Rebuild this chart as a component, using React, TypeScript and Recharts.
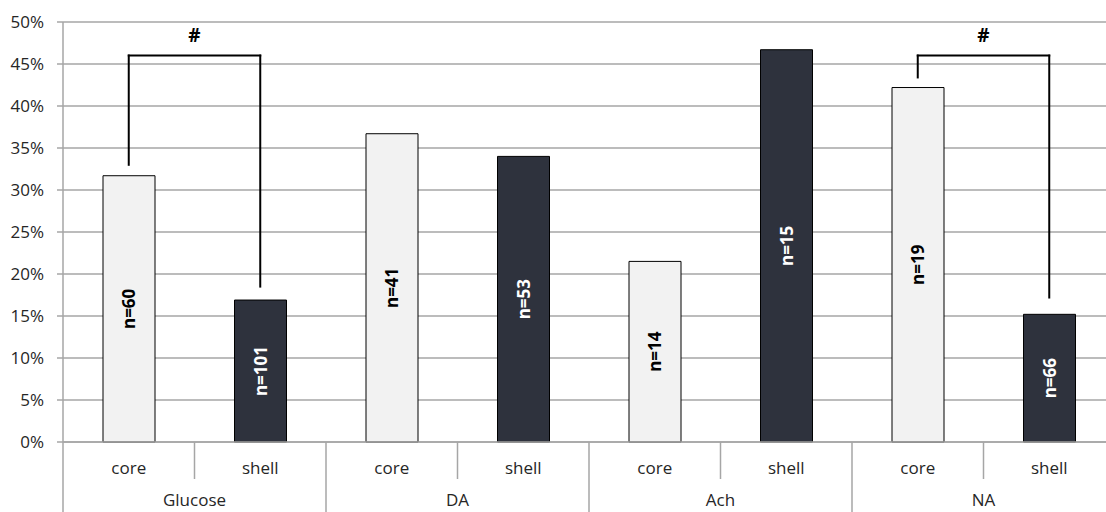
import React from 'react';
import {
  BarChart,
  Bar,
  XAxis,
  YAxis,
  CartesianGrid,
  ReferenceLine,
  LabelList,
  Cell
} from 'recharts';

const groups = ['Glucose', 'DA', 'Ach', 'NA'];
const regions = ['core', 'shell'];
const values = [31.7, 16.9, 36.7, 34.0, 21.5, 46.7, 42.2, 15.2];
const counts = ['n=60', 'n=101', 'n=41', 'n=53', 'n=14', 'n=15', 'n=19', 'n=66'];
const yTicks = [0, 5, 10, 15, 20, 25, 30, 35, 40, 45, 50];

// significance brackets: top of bracket and where each leg ends (in %)
const brackets = [
  { from: 'Glucose-core', to: 'Glucose-shell', top: 46, left: 33, right: 18.5 },
  { from: 'NA-core', to: 'NA-shell', top: 46, left: 43.4, right: 17.2 },
];

const data = groups.flatMap((g, gi) =>
  regions.map((r, ri) => ({
    key: `${g}-${r}`,
    group: g,
    region: r,
    value: values[gi * 2 + ri],
    n: counts[gi * 2 + ri],
  }))
);

const CHART_W = 1116;
const CHART_H = 520;
const Y_W = 63;
const MARGIN = { top: 22, right: 1, left: 0, bottom: 0 };
const SLOT = (CHART_W - Y_W - MARGIN.right) / data.length;

const LIGHT = '#f2f2f2';
const DARK = '#2e323d';
const GRID = '#a6a6a6';
const TEXT = '#262626';

const CategoryTick = (props: any) => {
  const { x, y, payload, index } = props;
  const d = data[index] || data.find((e) => e.key === payload.value);
  const half = SLOT / 2;
  const isShell = d.region === 'shell';
  return (
    <g>
      {index === 0 && (
        <line x1={x - half} y1={y} x2={x - half} y2={y + 80} stroke={GRID} strokeWidth={1.5} />
      )}
      <line
        x1={x + half}
        y1={y}
        x2={x + half}
        y2={y + (isShell ? 80 : 37)}
        stroke={GRID}
        strokeWidth={1.5}
      />
      <text x={x} y={y + 32} textAnchor="middle" fill={TEXT} fontSize={17}>
        {d.region}
      </text>
      {!isShell && (
        <text x={x + half} y={y + 64} textAnchor="middle" fill={TEXT} fontSize={17}>
          {d.group}
        </text>
      )}
    </g>
  );
};

const CountLabel = (props: any) => {
  const { x, y, width, height, value } = props;
  const i = counts.indexOf(value);
  const dark = data[i] && data[i].region === 'shell';
  const cx = Number(x) + Number(width) / 2;
  const cy = Number(y) + Number(height) / 2;
  return (
    <text
      x={cx}
      y={cy}
      transform={`rotate(-90 ${cx} ${cy})`}
      textAnchor="middle"
      dominantBaseline="central"
      fill={dark ? '#ffffff' : '#000000'}
      fontWeight="bold"
      fontSize={17}
    >
      {value}
    </text>
  );
};

export default function App() {
  return (
    <div
      style={{
        position: 'absolute',
        left: 0,
        top: 0,
        width: 1106,
        height: 512,
        overflow: 'hidden',
        background: '#fff',
        fontFamily: '"Open Sans", sans-serif',
      }}
    >
      <BarChart width={CHART_W} height={CHART_H} data={data} margin={MARGIN}>
        <CartesianGrid vertical={false} stroke={GRID} strokeWidth={1.5} />
        <XAxis
          dataKey="key"
          height={CHART_H - MARGIN.top - 420}
          tickLine={false}
          tickSize={0}
          tickMargin={0}
          axisLine={{ stroke: GRID, strokeWidth: 1.5 }}
          tick={<CategoryTick />}
          interval={0}
        />
        <YAxis
          width={Y_W}
          domain={[0, 50]}
          ticks={yTicks}
          tickFormatter={(v: number) => `${v}%`}
          axisLine={{ stroke: GRID, strokeWidth: 1.5 }}
          tickLine={{ stroke: GRID, strokeWidth: 1.5 }}
          tickSize={6}
          tickMargin={13}
          tick={{ fill: TEXT, fontSize: 17 }}
          interval={0}
        />
        <Bar dataKey="value" barSize={52} stroke="#000" strokeWidth={1} isAnimationActive={false}>
          {data.map((d) => (
            <Cell key={d.key} fill={d.region === 'core' ? LIGHT : DARK} />
          ))}
          <LabelList dataKey="n" content={<CountLabel />} />
        </Bar>
        {brackets.map((b) => (
          <ReferenceLine
            key={b.from + 'l'}
            segment={[{ x: b.from, y: b.left }, { x: b.from, y: b.top }]}
            stroke="#000"
            strokeWidth={2}
            strokeLinecap="square"
            ifOverflow="visible"
          />
        ))}
        {brackets.map((b) => (
          <ReferenceLine
            key={b.from + 't'}
            segment={[{ x: b.from, y: b.top }, { x: b.to, y: b.top }]}
            stroke="#000"
            strokeWidth={2}
            strokeLinecap="square"
            ifOverflow="visible"
            label={{ value: '#', position: 'top', offset: 14, fill: '#000', fontSize: 19, fontWeight: 'bold' }}
          />
        ))}
        {brackets.map((b) => (
          <ReferenceLine
            key={b.from + 'r'}
            segment={[{ x: b.to, y: b.top }, { x: b.to, y: b.right }]}
            stroke="#000"
            strokeWidth={2}
            strokeLinecap="square"
            ifOverflow="visible"
          />
        ))}
      </BarChart>
    </div>
  );
}
